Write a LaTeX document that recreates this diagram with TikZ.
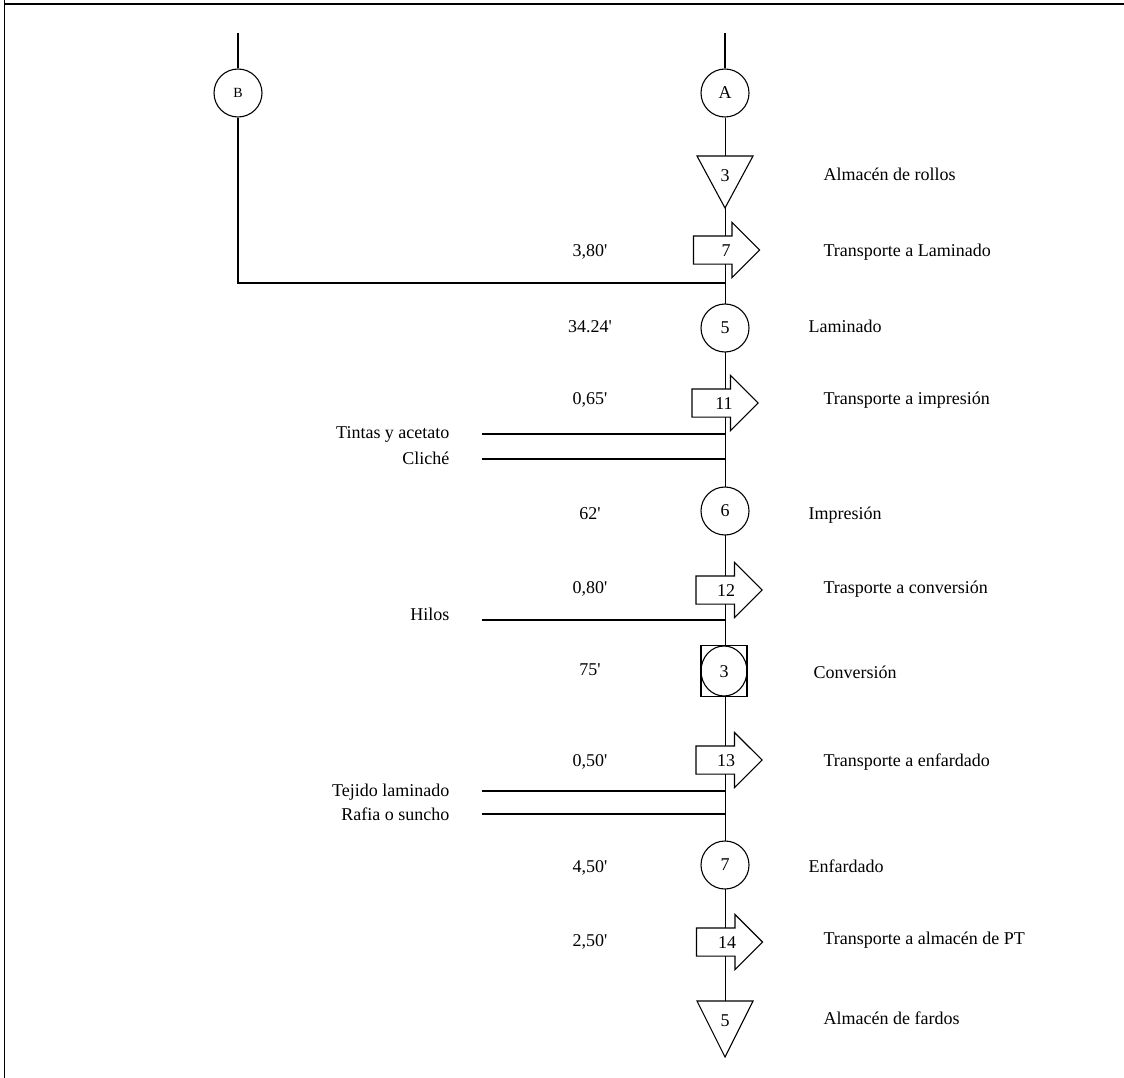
\documentclass[tikz,border=0pt]{standalone}
\usepackage{fontspec}
\setmainfont{Liberation Serif}
\usetikzlibrary{shapes.arrows,backgrounds}

\begin{document}
\begin{tikzpicture}[x=1pt,y=-1pt,line width=1.1pt,font=\fontsize{18}{21}\selectfont,
  oper/.style={circle,draw,fill=white,minimum size=48pt,inner sep=0pt},
  transp/.style={single arrow,draw,fill=white,single arrow tip angle=90,single arrow head extend=13.5pt,minimum height=66pt,inner sep=0pt,text height=13.5pt,text depth=13.5pt},
  etiq/.style={inner sep=0pt,text height=12pt,text depth=0pt}]
\useasboundingbox (0,0) rectangle (1124,1078);
% marco
\draw[line width=2.6pt] (5,4) -- (1124,4);
\draw[line width=1.4pt] (4.5,0) -- (4.5,1078);
% conectores de llegada
\coordinate (topA) at (725,33);
\coordinate (topB) at (238,33);
\node[oper] (A) at (725,93) {A};
\node[oper,font=\fontsize{14}{16}\selectfont] (B) at (238,93) {B};
\draw (topA) -- (A);
\draw (topB) -- (B);
% almacen de rollos
\draw[fill=white] (697,156) -- (753,156) -- (725,208) -- cycle;
\node[etiq] (alm3) at (725,176) {3};
\node[etiq,anchor=west] (l1) at (823,175) {Almacén de rollos};
% transporte a laminado
\node[transp] (t7) at (719.5,250) {};
\node[etiq] (t7l) at (726,250) {7};
\node[etiq] (d1) at (590,250) {3,80\textquotesingle};
\node[etiq,anchor=west] (l2) at (823,250) {Transporte a Laminado};
\coordinate (empalme) at (725,283);
\draw (B) |- (empalme);
% laminado
\node[oper] (o5) at (725,328) {5};
\node[etiq] (d2) at (590,326) {34.24\textquotesingle};
\node[etiq,anchor=west] (l3) at (808,326) {Laminado};
% transporte a impresion
\node[transp] (t11) at (718,403) {};
\node[etiq] (t11l) at (724,403) {11};
\node[etiq] (d3) at (590,398) {0,65\textquotesingle};
\node[etiq,anchor=west] (l4) at (823,398) {Transporte a impresión};
\node[etiq,anchor=east] (m1) at (450,432) {Tintas y acetato};
\node[etiq,anchor=east] (m2) at (450,458) {Cliché};
\coordinate (m1a) at (482,434);
\coordinate (m2a) at (482,459);
\draw (m1a) -- (m1a -| A);
\draw (m2a) -- (m2a -| A);
% impresion
\node[oper] (o6) at (725,511) {6};
\node[etiq] (d4) at (590,513) {62\textquotesingle};
\node[etiq,anchor=west] (l5) at (808,513) {Impresión};
% transporte a conversion
\node[transp] (t12) at (722,590) {};
\node[etiq] (t12l) at (726,590) {12};
\node[etiq] (d5) at (590,587) {0,80\textquotesingle};
\node[etiq,anchor=west] (l6) at (823,587) {Trasporte a conversión};
\node[etiq,anchor=east] (m3) at (450,614) {Hilos};
\coordinate (m3a) at (482,620);
\draw (m3a) -- (m3a -| A);
% conversion
\node[draw,fill=white,minimum width=46pt,minimum height=51pt,inner sep=0pt] (c3) at (724,671) {};
\draw (c3.center) ellipse [x radius=23, y radius=25];
\node[etiq] (c3l) at (724,671) {3};
\node[etiq] (d6) at (590,669) {75\textquotesingle};
\node[etiq,anchor=west] (l7) at (813,672) {Conversión};
% transporte a enfardado
\node[transp] (t13) at (722,760) {};
\node[etiq] (t13l) at (726,760) {13};
\node[etiq] (d7) at (590,760) {0,50\textquotesingle};
\node[etiq,anchor=west] (l8) at (823,760) {Transporte a enfardado};
\node[etiq,anchor=east] (m4) at (450,790) {Tejido laminado};
\node[etiq,anchor=east] (m5) at (450,814) {Rafia o suncho};
\coordinate (m4a) at (482,791);
\coordinate (m5a) at (482,814);
\draw (m4a) -- (m4a -| A);
\draw (m5a) -- (m5a -| A);
% enfardado
\node[oper] (o7) at (725,865) {7};
\node[etiq] (d8) at (590,866) {4,50\textquotesingle};
\node[etiq,anchor=west] (l9) at (808,866) {Enfardado};
% transporte a almacen de PT
\node[transp] (t14) at (722.5,942) {};
\node[etiq] (t14l) at (727,942) {14};
\node[etiq] (d9) at (590,940) {2,50\textquotesingle};
\node[etiq,anchor=west] (l10) at (823,938) {Transporte a almacén de PT};
% almacen de fardos
\coordinate (alm5n) at (725,1001);
\draw[fill=white] (697,1001) -- (753,1001) -- (725,1057) -- cycle;
\node[etiq] (alm5) at (725,1020) {5};
\node[etiq,anchor=west] (l11) at (823,1018) {Almacén de fardos};
% linea principal
\begin{scope}[on background layer]
\draw (A) -- (alm5n);
\end{scope}
\end{tikzpicture}
\end{document}
